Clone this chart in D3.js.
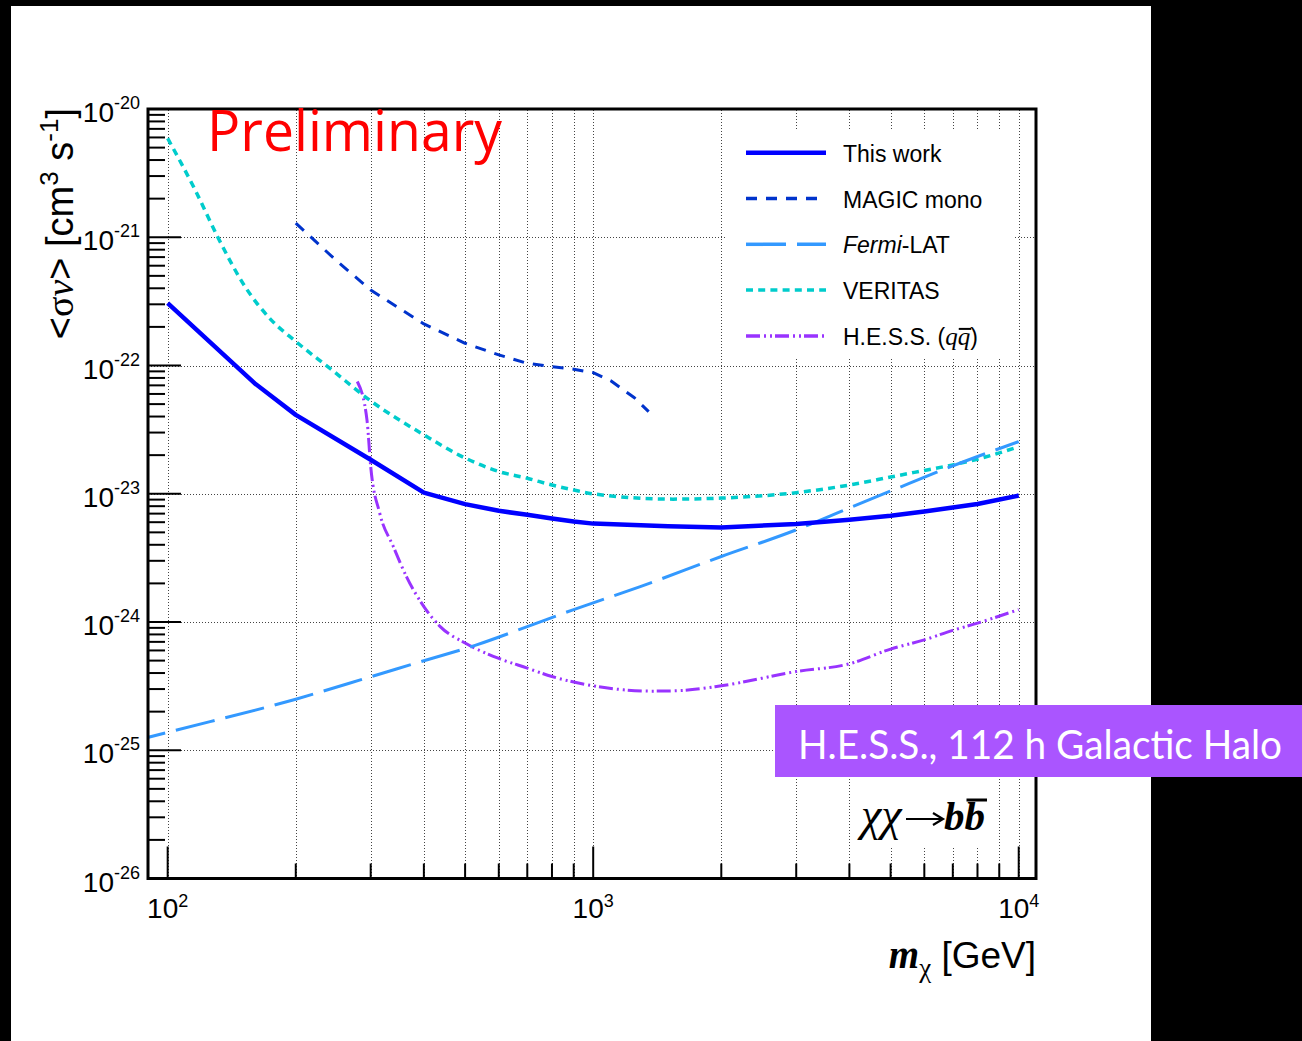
<!DOCTYPE html>
<html>
<head>
<meta charset="utf-8">
<script src="https://cdn.jsdelivr.net/npm/d3@7"></script>
<style>
  html, body { margin: 0; padding: 0; background: #000; }
  svg { display: block; }
</style>
</head>
<body>
<svg id="chart" width="1302" height="1041"></svg>
<script>
// Upper limits on the velocity-weighted annihilation cross-section <σv>
// versus dark-matter mass, χχ → b b̄ channel.

// ---- axis limits and tick decades ----
const xLimits = [89.9, 10980];      // GeV
const yLimits = [1e-26, 1e-20];     // cm^3 s^-1
const xDecades = [2, 3, 4];
const yDecades = [-26, -25, -24, -23, -22, -21, -20];

// ---- series: mass (GeV) and <σv> (cm^3 s^-1) ----
const thisWorkMass  = [100, 160, 200, 300, 400, 500, 600, 700, 800, 900, 1000, 1500, 2000, 3000, 4000, 5000, 6000, 7000, 8000, 10000];
const thisWorkSigma = [3.06e-22, 7.28e-23, 4.12e-23, 1.84e-23, 1.02e-23, 8.3e-24, 7.36e-24, 6.85e-24, 6.41e-24, 6.08e-24, 5.85e-24, 5.57e-24, 5.45e-24, 5.82e-24, 6.26e-24, 6.73e-24, 7.27e-24, 7.8e-24, 8.33e-24, 9.68e-24];

const magicMass  = [200, 250, 300, 400, 500, 600, 700, 800, 900, 1000, 1100, 1250, 1350];
const magicSigma = [1.29e-21, 6.5e-22, 3.88e-22, 2.11e-22, 1.49e-22, 1.21e-22, 1.04e-22, 9.8e-23, 9.35e-23, 8.8e-23, 7.6e-23, 5.6e-23, 4.37e-23];

const fermiMass  = [80, 100, 200, 300, 400, 530, 700, 900, 1000, 1290, 2000, 3000, 4000, 5000, 7000, 10000];
const fermiSigma = [1.14e-25, 1.38e-25, 2.5e-25, 3.74e-25, 4.99e-25, 6.6e-25, 9.2e-25, 1.25e-24, 1.41e-24, 1.89e-24, 3.24e-24, 5.23e-24, 7.76e-24, 1.05e-23, 1.65e-23, 2.55e-23];

const veritasMass  = [100, 116, 131, 152, 175, 200, 243, 300, 400, 500, 600, 700, 800, 900, 1000, 1540, 2000, 3000, 4000, 5000, 6000, 7000, 8000, 10000];
const veritasSigma = [5.9e-21, 2.34e-21, 1.01e-21, 4.12e-22, 2.27e-22, 1.54e-22, 9.25e-23, 5.3e-23, 2.88e-23, 1.9e-23, 1.49e-23, 1.32e-23, 1.17e-23, 1.07e-23, 9.98e-24, 9.08e-24, 9.25e-24, 1.02e-23, 1.17e-23, 1.35e-23, 1.52e-23, 1.68e-23, 1.86e-23, 2.33e-23];

const hessMass  = [279, 294, 300, 315, 339, 364, 400, 437, 500, 600, 700, 800, 1000, 1178, 1373, 1600, 2000, 3000, 4000, 5000, 6000, 7000, 8000, 10000];
const hessSigma = [7.5e-23, 3.77e-23, 1.63e-23, 7.06e-24, 3.88e-24, 2.26e-24, 1.32e-24, 9.2e-25, 6.85e-25, 5.2e-25, 4.37e-25, 3.76e-25, 3.18e-25, 2.96e-25, 2.89e-25, 2.92e-25, 3.18e-25, 4.11e-25, 4.72e-25, 6.15e-25, 7.26e-25, 8.6e-25, 9.8e-25, 1.25e-24];

const legendLabels = ["This work", "MAGIC mono", "Fermi-LAT", "VERITAS", "H.E.S.S. (qq)"];

// ---- styling ----
const SANS = "'Liberation Sans', Arial, Helvetica, sans-serif";
const SERIF = "'Liberation Serif', 'Times New Roman', serif";

const series = [
  { name: legendLabels[0], mass: thisWorkMass, sigma: thisWorkSigma, color: "#0000ff", width: 4.5, dash: null,           curve: d3.curveLinear },
  { name: legendLabels[1], mass: magicMass,    sigma: magicSigma,    color: "#0033cc", width: 3,   dash: "11,9",         curve: d3.curveLinear },
  { name: legendLabels[2], mass: fermiMass,    sigma: fermiSigma,    color: "#3399ff", width: 3,   dash: "40,11",        curve: d3.curveMonotoneX },
  { name: legendLabels[3], mass: veritasMass,  sigma: veritasSigma,  color: "#00cccc", width: 3.5, dash: "7,5.2",        curve: d3.curveMonotoneX },
  { name: legendLabels[4], mass: hessMass,     sigma: hessSigma,     color: "#9933ff", width: 3,   dash: "14,4,2,4,2,3", curve: d3.curveMonotoneX }
];

const svg = d3.select("#chart");

// white canvas panel
svg.append("rect").attr("x", 11).attr("y", 6).attr("width", 1140).attr("height", 1035).attr("fill", "#fff");

const x = d3.scaleLog().domain(xLimits).range([148, 1036]);
const y = d3.scaleLog().domain(yLimits).range([878.5, 109]);
const [x0, x1] = x.range();
const [y0, y1] = y.range();
const px = v => Math.round(v) + 0.5;

// tick values
const xTicks = [];
xDecades.forEach(e => {
  for (let k = 1; k <= 9; k++) {
    const v = k * Math.pow(10, e);
    if (v >= xLimits[0] && v <= xLimits[1] * 1.0001) xTicks.push({ v, major: k === 1, e });
  }
});
const yTicks = [];
yDecades.forEach(e => {
  for (let k = 1; k <= 9; k++) {
    const v = k * Math.pow(10, e);
    if (v >= yLimits[0] * 0.9999 && v <= yLimits[1] * 1.0001) yTicks.push({ v, major: k === 1, e });
  }
});

// ---- grid (dotted) ----
const grid = svg.append("g")
  .attr("stroke", "#444").attr("stroke-width", 1).attr("stroke-dasharray", "1,2")
  .attr("shape-rendering", "crispEdges");
grid.selectAll("line.gx").data(xTicks).join("line")
  .attr("x1", d => px(x(d.v))).attr("x2", d => px(x(d.v)))
  .attr("y1", y0).attr("y2", y1);
grid.selectAll("line.gy").data(yTicks.filter(d => d.major)).join("line")
  .attr("x1", x0).attr("x2", x1)
  .attr("y1", d => px(y(d.v))).attr("y2", d => px(y(d.v)));

// white backgrounds behind the legend and the channel label
svg.append("rect").attr("x", 727).attr("y", 130).attr("width", 288).attr("height", 227).attr("fill", "#fff");
svg.append("rect").attr("x", 853).attr("y", 772).attr("width", 143).attr("height", 74).attr("fill", "#fff");

// ---- curves ----
svg.append("clipPath").attr("id", "plotClip")
  .append("rect").attr("x", x0).attr("y", y1).attr("width", x1 - x0).attr("height", y0 - y1);

const curves = svg.append("g").attr("clip-path", "url(#plotClip)");
series.slice().reverse().forEach(s => {
  const pts = s.mass.map((m, i) => [m, s.sigma[i]]);
  const line = d3.line().x(d => x(d[0])).y(d => y(d[1])).curve(s.curve);
  curves.append("path")
    .attr("d", line(pts))
    .attr("fill", "none")
    .attr("stroke", s.color)
    .attr("stroke-width", s.width)
    .attr("stroke-dasharray", s.dash)
    .attr("stroke-linejoin", "round");
});

// ---- frame and ticks ----
svg.append("rect").attr("x", x0).attr("y", y1).attr("width", x1 - x0).attr("height", y0 - y1)
  .attr("fill", "none").attr("stroke", "#000").attr("stroke-width", 3);

const ticks = svg.append("g").attr("stroke", "#000").attr("stroke-width", 2);
ticks.selectAll("line.ty").data(yTicks).join("line")
  .attr("x1", x0).attr("x2", d => x0 + (d.major ? 33 : 17))
  .attr("y1", d => y(d.v)).attr("y2", d => y(d.v));
ticks.selectAll("line.tx").data(xTicks).join("line")
  .attr("x1", d => x(d.v)).attr("x2", d => x(d.v))
  .attr("y1", y0).attr("y2", d => y0 - (d.major ? 32 : 15));

// ---- tick labels ----
yTicks.filter(d => d.major).forEach(d => {
  const t = svg.append("text")
    .attr("x", 140).attr("y", y(d.v) + 13)
    .attr("text-anchor", "end")
    .attr("font-family", SANS).attr("font-size", 28).attr("fill", "#000");
  t.append("tspan").text("10");
  t.append("tspan").attr("font-size", 18).attr("dy", -13).text(String(d.e));
});
xTicks.filter(d => d.major).forEach(d => {
  const t = svg.append("text")
    .attr("x", x(d.v)).attr("y", 918)
    .attr("text-anchor", "middle")
    .attr("font-family", SANS).attr("font-size", 28).attr("fill", "#000");
  t.append("tspan").text("10");
  t.append("tspan").attr("font-size", 18).attr("dy", -11).text(String(d.e));
});

// ---- axis titles ----
const yTitle = svg.append("text")
  .attr("transform", "translate(73,108) rotate(-90)")
  .attr("text-anchor", "end")
  .attr("font-family", SANS).attr("font-size", 38).attr("fill", "#000");
yTitle.append("tspan").text("<");
yTitle.append("tspan").attr("font-family", SERIF).text("σ");
yTitle.append("tspan").attr("font-family", SERIF).attr("font-style", "italic").text("ν");
yTitle.append("tspan").text("> [cm");
yTitle.append("tspan").attr("font-size", 26).attr("dy", -15).text("3");
yTitle.append("tspan").attr("dy", 15).text(" s");
yTitle.append("tspan").attr("font-size", 26).attr("dy", -15).text("-1");
yTitle.append("tspan").attr("dy", 15).text("]");

const xTitle = svg.append("text")
  .attr("x", 1036).attr("y", 968)
  .attr("text-anchor", "end")
  .attr("font-family", SANS).attr("font-size", 37).attr("fill", "#000");
xTitle.append("tspan").attr("font-family", SERIF).attr("font-size", 39).attr("font-weight", "bold").attr("font-style", "italic").text("m");
xTitle.append("tspan").attr("font-family", SERIF).attr("font-size", 27).attr("dy", 9).text("χ");
xTitle.append("tspan").attr("dy", -9).text(" [GeV]");

// ---- legend ----
const legend = svg.append("g");
series.forEach((s, i) => {
  const ly = 152.7 + i * 45.8;
  legend.append("line")
    .attr("x1", 746).attr("x2", 826).attr("y1", ly).attr("y2", ly)
    .attr("stroke", s.color).attr("stroke-width", i === 0 ? 4.5 : 3.5)
    .attr("stroke-dasharray", s.dash);
  const t = legend.append("text")
    .attr("x", 843).attr("y", ly + 9)
    .attr("font-family", SANS).attr("font-size", 23).attr("fill", "#000");
  if (i === 2) {
    t.append("tspan").attr("font-style", "italic").text("Fermi");
    t.append("tspan").text("-LAT");
  } else if (i === 4) {
    t.append("tspan").text("H.E.S.S. (");
    t.append("tspan").attr("font-family", SERIF).attr("font-style", "italic").attr("font-size", 25).text("q");
    t.append("tspan").attr("font-family", SERIF).attr("font-style", "italic").attr("font-size", 25).text("q");
    t.append("tspan").text(")");
    // bar over the antiquark
    const full = t.text();
    const idx = full.lastIndexOf("q");
    const ext = t.node().getExtentOfChar(idx);
    legend.append("line")
      .attr("x1", ext.x + 1).attr("x2", ext.x + ext.width + 1)
      .attr("y1", ly - 7).attr("y2", ly - 7)
      .attr("stroke", "#000").attr("stroke-width", 2);
  } else {
    t.text(s.name);
  }
});

// ---- channel label: χχ → b b̄ ----
svg.append("text")
  .attr("x", 861).attr("y", 830)
  .attr("font-family", SERIF).attr("font-size", 46).attr("font-style", "italic").attr("fill", "#000")
  .text("χχ");
const arrow = svg.append("g").attr("stroke", "#000").attr("stroke-width", 2.2).attr("fill", "none");
arrow.append("line").attr("x1", 906).attr("x2", 942).attr("y1", 819).attr("y2", 819);
arrow.append("path").attr("d", "M933,813 L943,819 L933,825").attr("stroke-linejoin", "miter");
const bb = svg.append("text")
  .attr("x", 944).attr("y", 830)
  .attr("font-family", SERIF).attr("font-size", 41).attr("font-weight", "bold").attr("font-style", "italic").attr("fill", "#000")
  .text("bb");
{
  const ext = bb.node().getExtentOfChar(1);
  svg.append("line")
    .attr("x1", ext.x + 2).attr("x2", ext.x + ext.width + 2)
    .attr("y1", 800).attr("y2", 800)
    .attr("stroke", "#000").attr("stroke-width", 3);
}

// ---- overlays ----
svg.append("text")
  .attr("x", 207).attr("y", 151)
  .attr("font-family", "'Open Sans', 'Noto Sans', sans-serif").attr("font-size", 56)
  .attr("textLength", 295).attr("lengthAdjust", "spacingAndGlyphs")
  .attr("fill", "#ff0000").text("Preliminary");

svg.append("rect").attr("x", 775).attr("y", 705).attr("width", 527).attr("height", 72).attr("fill", "#aa55ff");
svg.append("text")
  .attr("x", 798).attr("y", 759)
  .attr("font-family", "Lato, 'Open Sans', sans-serif").attr("font-size", 40)
  .attr("textLength", 484).attr("lengthAdjust", "spacingAndGlyphs")
  .attr("fill", "#fff").text("H.E.S.S., 112 h Galactic Halo");
</script>
</body>
</html>
